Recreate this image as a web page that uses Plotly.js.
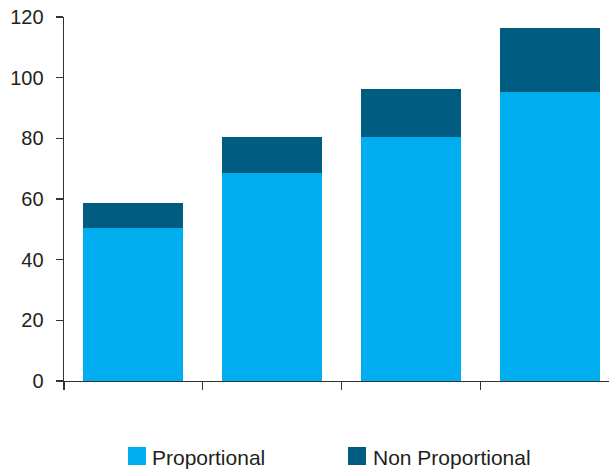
<!DOCTYPE html>
<html>
<head>
<meta charset="utf-8">
<script src="https://cdn.plot.ly/plotly-3.0.1.min.js"></script>
<style>
  html, body { margin: 0; padding: 0; background: #ffffff; overflow: hidden; }
  #chart { width: 620px; height: 471px; }
</style>
</head>
<body>
<div id="chart"></div>
<script>
// Four groups, stacked: proportional part plus non-proportional part
const groups = ['1', '2', '3', '4'];
const proportional = [50.6, 68.7, 80.6, 95.4];
const nonProportional = [8.2, 11.9, 15.8, 21.1];
const seriesNames = ['Proportional', 'Non Proportional'];
const seriesColors = ['#00aeef', '#005c80'];
const yTicks = [0, 20, 40, 60, 80, 100, 120];

const xPos = groups.map((g, i) => i);
const boundaries = groups.map((g, i) => i - 0.5).concat([groups.length - 0.5]);

const W = 620, H = 471;
const M = { l: 64, r: 1, t: 17, b: 90 };
const plotW = W - M.l - M.r, plotH = H - M.t - M.b;
// pixel -> paper helpers for the legend block under the axis
const px = p => (p - M.l) / plotW;
const py = q => (H - M.b - q) / plotH;

const traces = [
  { type: 'bar', name: seriesNames[0], x: xPos, y: proportional,
    marker: { color: seriesColors[0] }, width: 0.72, hoverinfo: 'y' },
  { type: 'bar', name: seriesNames[1], x: xPos, y: nonProportional,
    marker: { color: seriesColors[1] }, width: 0.72, hoverinfo: 'y' }
];

const legendItems = [
  { sq: 128, text: 150 },
  { sq: 348, text: 371 }
];
const shapes = legendItems.map((it, i) => ({
  type: 'rect', xref: 'paper', yref: 'paper',
  x0: px(it.sq), x1: px(it.sq + 18), y0: py(465), y1: py(447),
  fillcolor: seriesColors[i], line: { width: 0 }
}));
const annotations = legendItems.map((it, i) => ({
  xref: 'paper', yref: 'paper', x: px(it.text), y: py(458),
  xanchor: 'left', yanchor: 'middle', showarrow: false,
  text: seriesNames[i],
  font: { family: 'Liberation Sans, Arial, sans-serif', size: 21, color: '#231f20' }
}));

const layout = {
  width: W, height: H,
  margin: M,
  paper_bgcolor: '#ffffff', plot_bgcolor: '#ffffff',
  barmode: 'stack',
  showlegend: false,
  font: { family: 'Liberation Sans, Arial, sans-serif', color: '#231f20' },
  xaxis: {
    range: [-0.5, groups.length - 0.5],
    tickmode: 'array', tickvals: boundaries,
    showticklabels: false,
    ticks: 'outside', ticklen: 8, tickwidth: 1.4, tickcolor: '#333333',
    showline: true, linecolor: '#333333', linewidth: 1.4,
    showgrid: false, zeroline: false, fixedrange: true
  },
  yaxis: {
    range: [0, 120],
    tickmode: 'array', tickvals: yTicks,
    ticks: 'outside', ticklen: 7, tickwidth: 1.4, tickcolor: '#333333',
    ticklabelstandoff: 8,
    tickfont: { size: 20, color: '#231f20' },
    showline: true, linecolor: '#333333', linewidth: 1.4,
    showgrid: false, zeroline: false, fixedrange: true
  },
  shapes: shapes,
  annotations: annotations
};

Plotly.newPlot('chart', traces, layout, { staticPlot: true, displayModeBar: false });
</script>
</body>
</html>
